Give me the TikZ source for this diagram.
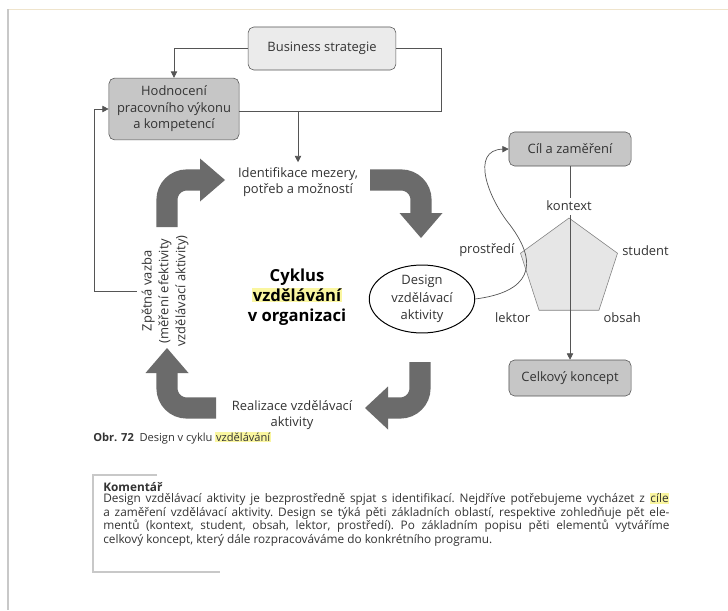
\documentclass[tikz,border=0pt]{standalone}
\usepackage{fontspec}
\setmainfont{Open Sans}
\usetikzlibrary{shapes.geometric, arrows.meta}

\definecolor{boxlight}{HTML}{EBEBEB}
\definecolor{boxdark}{HTML}{C6C6C6}
\definecolor{cyclegray}{HTML}{6B6B6B}
\definecolor{linegray}{HTML}{555555}
\definecolor{txtgray}{HTML}{333333}
\definecolor{hlyellow}{HTML}{FAF6A0}
\definecolor{penta}{HTML}{E6E6E6}
\definecolor{framegray}{HTML}{C8C8C8}
\definecolor{frametan}{HTML}{EFE4CC}

\newcommand{\hilite}[1]{{\setlength{\fboxsep}{0.5pt}\colorbox{hlyellow}{#1}}}

\tikzset{
  txt/.style = {text=txtgray, align=center, font=\fontsize{9.2}{11.8}\selectfont},
  box/.style = {txt, draw=linegray, rounded corners=4pt, inner sep=0pt},
  conn/.style = {draw=linegray, line width=0.5pt},
  tip/.style = {-{Triangle[width=4.5pt,length=4.5pt]}},
  shaft/.style = {draw=cyclegray, line width=15pt, rounded corners=14pt},
  elem/.style = {txt, inner sep=1pt},
}

\begin{document}
\begin{tikzpicture}[x=0.025cm, y=-0.025cm]
\useasboundingbox (0,0) rectangle (728,610);
\fill[white] (0,0) rectangle (728,610);
\draw[frametan, line width=0.8pt] (7,9.5) -- (728,9.5);
\draw[framegray, line width=0.8pt] (8,9.5) -- (8,610);

% boxes
\node[box, fill=boxlight, minimum width=105pt, minimum height=30.6pt] (bs) at (322,48.5) {Business strategie};
\node[box, fill=boxdark, minimum width=92.5pt, minimum height=44pt] (hod) at (174,109) {Hodnocení\\pracovního výkonu\\a kompetencí};
\node[box, fill=boxdark, minimum width=86.8pt, minimum height=24.2pt] (cil) at (570,149) {Cíl a zaměření};
\node[box, fill=boxdark, minimum width=86.8pt, minimum height=25.6pt] (celk) at (570,378) {Celkový koncept};

% cycle
\node[txt] (ident) at (298,182) {Identifikace mezery,\\potřeb a možností};
\node[txt, font=\fontsize{9.2}{12}\selectfont, rotate=90] (fb) at (165,291) {Zpětná vazba\\(měření efektivity\\vzdělávací aktivity)};
\node[txt, text=black, font=\bfseries\fontsize{11.8}{14.2}\selectfont] (cyc) at (297,297) {Cyklus\\\hilite{vzdělávání}\\v organizaci};
\node[txt, draw=black, line width=0.7pt, ellipse, minimum width=75pt, minimum height=45.5pt, inner sep=0pt, font=\fontsize{9.2}{12.6}\selectfont] (des) at (422,299) {Design\\vzdělávací\\aktivity};
\node[txt] (real) at (292,415) {Realizace vzdělávací\\aktivity};

\draw[shaft] (167,227) -- (167,180) -- (201,180);
\fill[cyclegray] (200,158.5) -- (225,180) -- (200,201.5) -- cycle;
\draw[shaft] (370,180) -- (421,180) -- (421,214);
\fill[cyclegray] (399.5,213) -- (421,238) -- (442.5,213) -- cycle;
\draw[shaft] (420,362) -- (420,408) -- (387,408);
\fill[cyclegray] (388,386.5) -- (365,408) -- (388,429.5) -- cycle;
\draw[shaft] (216,408) -- (167,408) -- (167,372);
\fill[cyclegray] (145.5,373) -- (167,348) -- (188.5,373) -- cycle;

% connectors
\coordinate (rt) at (441,111);
\coordinate (fbx) at (94,0);
\draw[conn, tip] (bs.west) -| (hod.north);
\draw[conn] (bs.east) -| (rt) -- (rt -| hod.east);
\draw[conn, tip] (rt -| ident.north) -- (ident.north);
\draw[conn, tip] (fb.north) -- (fb.north -| fbx) |- (hod.west);

% design elements
\node[regular polygon, regular polygon sides=5, minimum size=72.5pt, inner sep=0pt, draw=gray, fill=penta] (pent) at (569,269) {};
\draw[conn, tip] (cil) -- (celk);
\draw[conn, tip] (des.east) .. controls (530,292) and (540,265) .. (510,225) .. controls (488,198) and (470,150) .. (cil.west);
\node[elem, anchor=south, fill=white, inner sep=2.5pt, yshift=2pt] (kon) at (pent.corner 1) {kontext};
\node[elem, anchor=west, xshift=2pt, yshift=2pt] (stu) at (pent.corner 5) {student};
\node[elem, anchor=north west, xshift=2pt] (obs) at (pent.corner 4) {obsah};
\node[elem, anchor=north east, xshift=-5pt] (lek) at (pent.corner 3) {lektor};
\node[elem, anchor=east, xshift=-3pt, yshift=2pt] (pro) at (pent.corner 2) {prostředí};

% caption and comment
\node[anchor=west, inner sep=0pt, text=txtgray, font=\fontsize{7.9}{9}\selectfont] (cap) at (93,438) {\textbf{Obr. 72}\hspace{4pt}Design v cyklu \hilite{vzdělávání}};
\draw[framegray, line width=0.8pt] (157,475) -- (93,475) -- (93,572) -- (220,572);
\node[anchor=north west, inner sep=0pt, text width=402.6pt, align=justify, text=txtgray, font=\fontsize{8.4}{8.1}\selectfont\frenchspacing] (kom) at (103,482) {\textbf{Komentář}\\ Design vzdělávací aktivity je bezprostředně spjat s~identifikací. Nejdříve potřebujeme vycházet z~\hilite{cíle}\linebreak a~zaměření vzdělávací aktivity. Design se týká pěti základních oblastí, respektive zohledňuje pět ele-\linebreak mentů (kontext, student, obsah, lektor, prostředí). Po základním popisu pěti elementů vytváříme\linebreak celkový koncept, který dále rozpracováváme do konkrétního programu.};
\end{tikzpicture}
\end{document}
